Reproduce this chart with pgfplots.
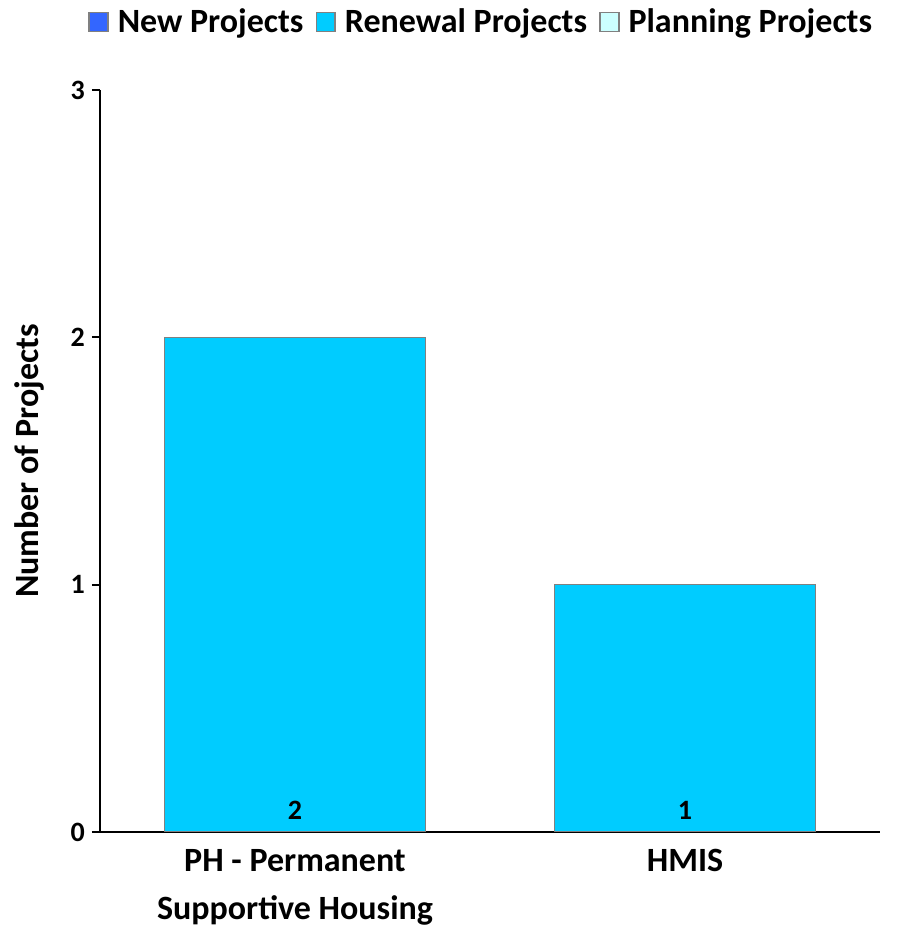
\documentclass[border=0pt]{standalone}
\usepackage{pgfplots}
\pgfplotsset{compat=1.18}
\usepackage{fontspec}
\setmainfont{Carlito}
\definecolor{newc}{HTML}{3366FF}
\definecolor{renc}{HTML}{00CCFF}
\definecolor{planc}{HTML}{CCFFFF}
\definecolor{edge}{HTML}{808080}
\begin{document}
\begin{tikzpicture}
\begin{axis}[
  at={(0,0)}, anchor=south west,
  scale only axis, width=390pt, height=371pt,
  ybar stacked, bar width=0.67,
  xmin=-0.5, xmax=1.5, ymin=0, ymax=3,
  xtick={0,1},
  xticklabels={{PH - Permanent\\Supportive Housing},{HMIS}},
  xticklabel style={align=center, font=\bfseries\fontsize{17}{24}\selectfont, anchor=north, yshift=-1pt},
  ytick={0,1,2,3},
  yticklabel style={font=\bfseries\fontsize{14}{16}\selectfont},
  /pgf/number format/assume math mode=true,
  axis lines*=left,
  axis line style={black, line width=1pt},
  x tick style={draw=none},
  y tick style={black, line width=1pt},
  tick align=outside, major tick length=4pt,
  ylabel={Number of Projects},
  every axis y label/.style={at={(axis description cs:-0.09,0.5)}, rotate=90, anchor=center, font=\bfseries\fontsize{17}{20}\selectfont},
  legend columns=3,
  legend style={at={(axis description cs:0.49,1)}, anchor=center, yshift=34pt, draw=none, fill=none,
    font=\bfseries\fontsize{17}{20}\selectfont,
    /tikz/every even column/.append style={column sep=4pt},
    /tikz/every odd column/.append style={column sep=2.5pt}},
  mybox/.style={legend image code/.code={\draw[##1, draw=edge, line width=0.8pt] (0pt,-4.7pt) rectangle (9.4pt,4.7pt);}},
]
\addplot[fill=newc, draw=edge, line width=0.8pt, mybox] coordinates {(0,0) (1,0)};
\addlegendentry{New Projects}
\addplot[fill=renc, draw=edge, line width=0.8pt, mybox] coordinates {(0,2) (1,1)};
\addlegendentry{Renewal Projects}
\addplot[fill=planc, draw=edge, line width=0.8pt, mybox] coordinates {(0,0) (1,0)};
\addlegendentry{Planning Projects}
\end{axis}
% overlay axis for the value labels set at the base of the Renewal bars
\begin{axis}[
  at={(0,0)}, anchor=south west,
  scale only axis, width=390pt, height=371pt,
  xmin=-0.5, xmax=1.5, ymin=0, ymax=3,
  hide axis, clip=false,
  /pgf/number format/assume math mode=true,
]
\addplot[only marks, mark=none,
  point meta=explicit,
  nodes near coords,
  every node near coord/.append style={font=\bfseries\fontsize{14}{16}\selectfont, text=black,
     anchor=center, yshift=11pt}]
  coordinates {(0,0) [2] (1,0) [1]};
\end{axis}
\pgfresetboundingbox
\path[use as bounding box] (-50pt,-59.5pt) rectangle (400pt,416pt);
\end{tikzpicture}
\end{document}
